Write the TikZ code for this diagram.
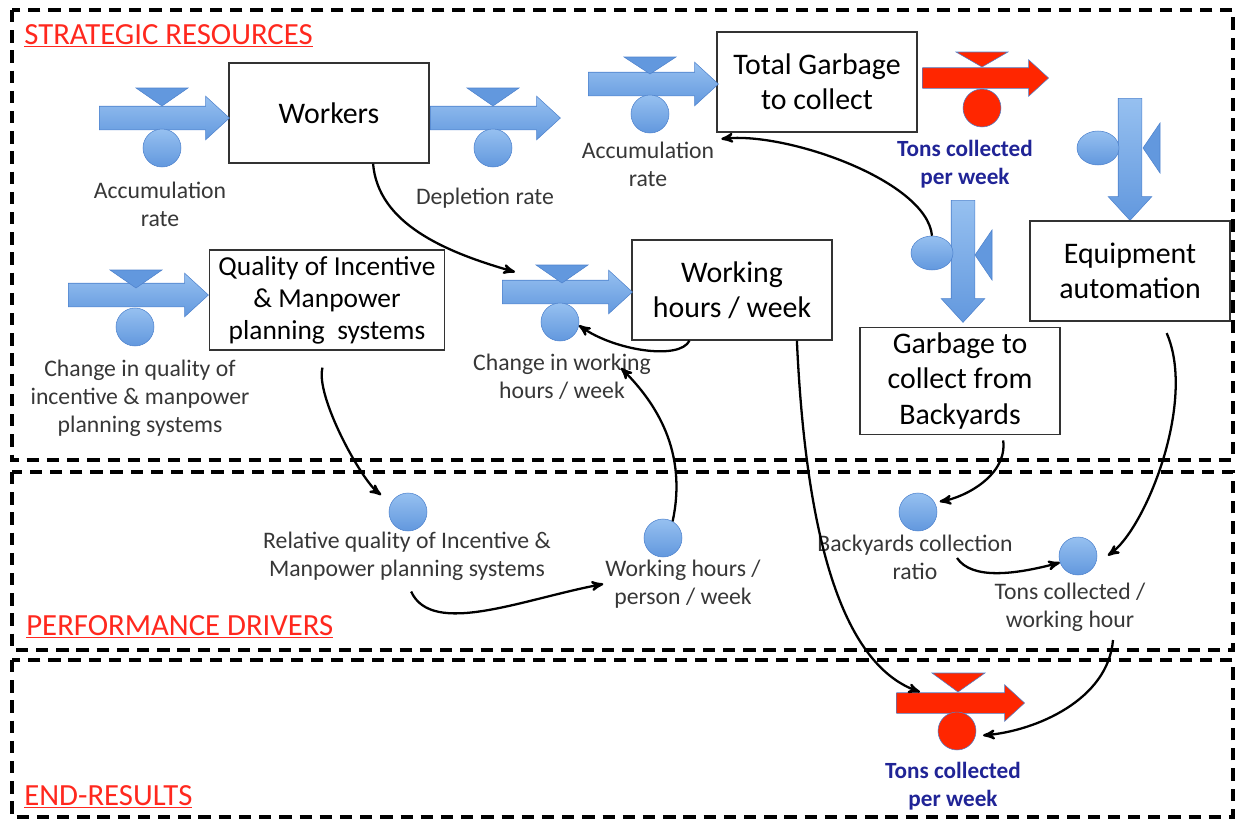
\documentclass[tikz,border=0pt]{standalone}
\usepackage{fontspec}
\setmainfont{Carlito}
\usepackage{tikz}
\usetikzlibrary{shapes,arrows}
\definecolor{flowblue}{RGB}{98,152,222}
\definecolor{flowblueL}{RGB}{150,192,240}
\definecolor{flowblueD}{RGB}{78,130,205}
\definecolor{flowred}{RGB}{255,38,0}
\definecolor{labelgray}{RGB}{55,55,55}
\definecolor{titlered}{RGB}{255,40,30}
\definecolor{tonsblue}{RGB}{32,36,150}
\tikzstyle{stock}=[draw=black!80, fill=white, line width=0.8pt,
    minimum width=4cm, minimum height=2cm, align=center,
    font=\fontsize{17}{20}\selectfont]
\tikzstyle{pipe}=[single arrow, draw=flowblueD, line width=0.3pt,
    top color=flowblueL, bottom color=flowblue, inner sep=0.23cm,
    minimum width=0pt, single arrow head extend=0.2cm,
    single arrow tip angle=85, minimum height=2.6cm]
\tikzstyle{redpipe} = [pipe, draw=flowblueD, top color=flowred,
    bottom color=flowred, inner sep=0.2cm, single arrow head extend=0.16cm]
\tikzstyle{valve}=[circle, draw=flowblueD, line width=0.3pt,
    top color=flowblueL, bottom color=flowblue, minimum size=0.76cm,
    inner sep=0pt]
\tikzstyle{redvalve} = [valve, top color=flowred, bottom color=flowred]
\tikzstyle{knob}=[ellipse, draw=flowblueD, line width=0.3pt,
    top color=flowblueL, bottom color=flowblue, minimum width=0.84cm,
    minimum height=0.68cm, inner sep=0pt]
\tikzstyle{gate}=[draw=flowblueD, line width=0.3pt, fill=flowblue]
\tikzstyle{redgate}=[draw=flowblueD, line width=0.3pt, fill=flowred]
\tikzstyle{rate}=[align=center, text=labelgray, inner sep=1pt,
    font=\fontsize{13.5}{16}\selectfont]
\tikzstyle{result} = [rate, text=tonsblue,
    font=\bfseries\fontsize{13.2}{16}\selectfont]
\tikzstyle{section}=[anchor=west, text=titlered, inner sep=0pt,
    font=\fontsize{17.5}{20}\selectfont]
\tikzstyle{frame}=[draw=black, line width=2pt, dash pattern=on 7pt off 4.5pt]
\tikzstyle{link}=[->, >=stealth', line width=1.3pt, black]
\begin{document}
\begin{tikzpicture}[x=0.02cm, y=-0.02cm]
\useasboundingbox (0,0) rectangle (1238,819);
% frames
\draw [frame] (12,10) rectangle (1233,460);
\draw [frame] (12,472) rectangle (1233,650);
\draw [frame] (12,660) rectangle (1233,817);
\path (24,36) node [section] (strat) {\underline{STRATEGIC RESOURCES}};
\path (26,627) node [section] (perf) {\underline{PERFORMANCE DRIVERS}};
\path (24,797) node [section] (endres) {\underline{END-RESULTS}};
% Workers
\path (329,113) node [stock] (W) {Workers};
\path (158,118) node [pipe] (pW1) {};
\filldraw [gate] (136,88) -- (188,88) -- (162,106) -- cycle;
\path (162,148) node [valve] (vW1) {};
\path (160,204) node [rate] (lW1) {Accumulation\\rate};
\path (489,118) node [pipe] (pW2) {};
\filldraw [gate] (467,88) -- (519,88) -- (493,106) -- cycle;
\path (493,148) node [valve] (vW2) {};
\path (485,198) node [rate] (lW2) {Depletion rate};
% Total Garbage to collect
\path (817,82) node [stock] (G) {Total Garbage\\to collect};
\path (647,84) node [pipe] (pG1) {};
\filldraw [gate] (624,57) -- (676,57) -- (650,74) -- cycle;
\path (650,114) node [valve] (vG1) {};
\path (648,164) node [rate] (lG1) {Accumulation\\rate};
\path (980,78) node [redpipe, minimum height=2.52cm] (pG2) {};
\filldraw [redgate] (956,52) -- (1008,52) -- (982,67) -- cycle;
\path (982,108) node [redvalve] (vG2) {};
\path (965,164) node [result] (lG2) {Tons collected\\per week};
% Quality of incentive
\path (327,300) node [stock, minimum width=4.7cm, font=\fontsize{15.6}{18.2}\selectfont] (Q) {Quality of Incentive\\\& Manpower\\planning~ systems};
\path (132,295) node [pipe, minimum height=2.8cm] (pQ) {};
\filldraw [gate] (110,270) -- (162,270) -- (136,288) -- cycle;
\path (135,327) node [valve] (vQ) {};
\path (140,398) node [rate] (lQ) {Change in quality of\\incentive \& manpower\\planning systems};
% Working hours / week
\path (732,290) node [stock] (H) {Working\\hours / week};
\path (561,292) node [pipe] (pH) {};
\filldraw [gate] (536,265) -- (588,265) -- (562,283) -- cycle;
\path (560,322) node [valve] (vH) {};
\path (562,377) node [rate] (lH) {Change in working\\hours / week};
% Equipment automation
\path (1130,153) node [pipe, rotate=-90, minimum height=2.44cm] (pE) {};
\path (1130,271) node [stock] (E) {Equipment\\automation};
\path (1098,148) node [knob] (vE) {};
\filldraw [gate] (1143,148) -- (1160,123) -- (1160,173) -- cycle;
% Garbage to collect from Backyards
\path (963,255) node [pipe, rotate=-90, minimum height=2.44cm] (pB) {};
\path (960,381) node [stock] (B) {Garbage to\\collect from\\Backyards};
\path (932,253) node [knob] (vB) {};
\filldraw [gate] (975,255) -- (992,230) -- (992,280) -- cycle;
% performance drivers
\path (408,512) node [valve] (rq) {};
\path (407,556) node [rate] (lrq) {Relative quality of Incentive \&\\Manpower planning systems};
\path (663,538) node [valve] (hp) {};
\path (683,584) node [rate] (lhp) {Working hours /\\person / week};
\path (918,512) node [valve] (br) {};
\path (915,557) node [rate] (lbr) {Backyards collection\\ratio};
\path (1078,556) node [valve] (tw) {};
\path (1070,607) node [rate] (ltw) {Tons collected /\\working hour};
% end-results
\path (955,703) node [redpipe, minimum height=2.56cm] (pT) {};
\filldraw [redgate] (932,673) -- (985,673) -- (958,692) -- cycle;
\path (957,731) node [redvalve] (vT) {};
\path (953,786) node [result] (lT) {Tons collected\\per week};
% free ends
\coordinate (tH) at (515,272);
\coordinate (tH2) at (621,368);
\coordinate (tT) at (920,692);
\coordinate (sbr) at (957,558);
\coordinate (stw) at (1113,640);
% arrows
\draw [link] (W.311) .. controls +(5,60) and +(-70,-20) .. (tH);
\draw [link] (H.230) .. controls +(-10,20) and +(35,25) .. (vH.-10);
\draw [link] (hp.60) .. controls +(15,-70) and +(35,35) .. (tH2);
\draw [link, shorten <=0.35cm, shorten >=0.25cm] (Q.south) .. controls +(-12,45) and +(-30,-22) .. (rq.150);
\draw [link, shorten <=0.2cm] (lrq.south) .. controls +(25,55) and +(-80,15) .. (lhp.west);
\draw [link] (H.322) .. controls +(10,220) and +(-70,-25) .. (tT);
\draw [link, shorten <=0.1cm, shorten >=0.1cm] (B.308) .. controls +(5,40) and +(30,-5) .. (br.30);
\draw [link] (sbr) .. controls +(15,22) and +(-45,12) .. (tw.200);
\draw [link, shorten <=0.25cm, shorten >=0.3cm] (E.302) .. controls +(35,80) and +(50,-35) .. (tw.-25);
\draw [link, shorten >=0.15cm] (stw) .. controls +(-5,60) and +(60,-5) .. (vT.-15);
\draw [link, shorten >=0.1cm] (vB.north) .. controls +(-5,-55) and +(70,-8) .. (lG1.north east);
\end{tikzpicture}
\end{document}
